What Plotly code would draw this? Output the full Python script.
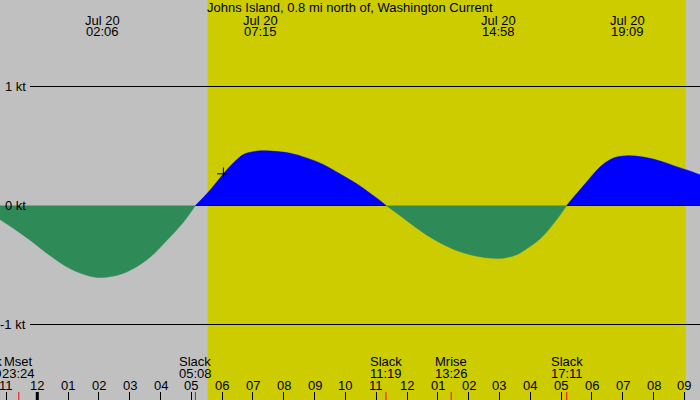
import plotly.graph_objects as go

title_text = "Johns Island, 0.8 mi north of, Washington Current"

# hours after Jul 20 00:00 (negative = Jul 19), current speed in knots
times = [-1.21, -0.70, -0.24, 0.41, 1.06, 1.71, 2.10, 2.68, 3.12, 3.66, 4.20, 4.74, 5.133,
         5.50, 5.82, 6.04, 6.25, 6.47, 6.69, 7.00, 7.25, 7.60, 8.20, 8.74, 9.28, 9.82,
         10.37, 10.80, 11.12, 11.317,
         11.77, 12.20, 12.75, 13.29, 13.83, 14.37, 14.97, 15.24, 15.56, 15.88, 16.32,
         16.75, 17.183,
         17.45, 17.78, 18.10, 18.43, 18.75, 19.15, 19.62, 20.16, 20.70, 21.13, 21.51]
speeds = [-0.118, -0.205, -0.29, -0.42, -0.53, -0.594, -0.605, -0.58, -0.53, -0.434, -0.294,
          -0.14, 0,
          0.098, 0.196, 0.266, 0.328, 0.384, 0.429, 0.452, 0.46, 0.457, 0.44, 0.40, 0.345,
          0.266, 0.182, 0.103, 0.042, 0,
          -0.084, -0.168, -0.266, -0.342, -0.398, -0.431, -0.445, -0.437, -0.414, -0.364,
          -0.28, -0.154, 0,
          0.084, 0.182, 0.28, 0.359, 0.403, 0.418, 0.409, 0.378, 0.33, 0.294, 0.258]

# extrema labels (top)
peak_hours = [2.10, 7.25, 14.967, 19.15]
peak_labels = ["02:06", "07:15", "14:58", "19:09"]
peak_date = "Jul 20"

# events (bottom)
event_names = ["Slack", "Mset", "Slack", "Slack", "Mrise", "Slack"]
event_times = ["22:20", "23:24", "05:08", "11:19", "13:26", "17:11"]
event_day = [-1, -1, 0, 0, 0, 0]

# hour ticks
tick_hours = list(range(-1, 22))
tick_labels = ["11", "12", "01", "02", "03", "04", "05", "06", "07", "08", "09", "10",
               "11", "12", "01", "02", "03", "04", "05", "06", "07", "08", "09"]

# y labels
kt_values = [1, 0, -1]
kt_labels = ["1 kt", "0 kt", "-1 kt"]

sunrise, sunset = 5.53, 21.04
now_t, now_v = [6.04], [0.266]

x_range = [-1.2107, 21.509]
y_range = [-1.6345, 1.7269]

GRAY = "#c0c0c0"
YELLOW = "#cccc00"
BLUE = "#0000ff"
GREEN = "#2e8b57"
FONT = dict(family="Liberation Sans, Arial, sans-serif", size=13, color="black")
W, H = 700, 400
px_per_hour = W / (x_range[1] - x_range[0])

fig = go.Figure()

# split into segments at zero crossings
segments = []
cur_t, cur_v = [], []
for t, v in zip(times, speeds):
    cur_t.append(t)
    cur_v.append(v)
    if v == 0 and len(cur_t) > 1:
        segments.append((cur_t, cur_v))
        cur_t, cur_v = [t], [v]
if len(cur_t) > 1:
    segments.append((cur_t, cur_v))

pos_segs = [s for s in segments if max(s[1]) > 0]
neg_segs = [s for s in segments if min(s[1]) < 0]

for st, sv in pos_segs:
    fig.add_trace(go.Scatter(x=st, y=sv, mode="lines", fill="tozeroy",
                             fillcolor=BLUE, line=dict(color=BLUE, width=0.5,
                                                       shape="spline", smoothing=1.0),
                             hoverinfo="skip", showlegend=False))
    # zero baseline under the flood
    fig.add_trace(go.Scatter(x=[st[0], st[-1]], y=[0, 0], mode="lines",
                             line=dict(color="black", width=1),
                             hoverinfo="skip", showlegend=False))

for st, sv in neg_segs:
    fig.add_trace(go.Scatter(x=st, y=sv, mode="lines", fill="tozeroy",
                             fillcolor=GREEN, line=dict(color=GREEN, width=0.5,
                                                        shape="spline", smoothing=1.0),
                             hoverinfo="skip", showlegend=False))

# current-time marker
fig.add_trace(go.Scatter(x=now_t, y=now_v, mode="markers",
                         marker=dict(symbol="cross-thin", size=9,
                                     line=dict(color="black", width=1)),
                         hoverinfo="skip", showlegend=False))

shapes = []
# daylight
shapes.append(dict(type="rect", xref="x", yref="paper", x0=sunrise, x1=sunset,
                   y0=0, y1=1, fillcolor=YELLOW, line=dict(width=0), layer="below"))
# +/-1 kt lines
for k in [1, -1]:
    shapes.append(dict(type="line", xref="paper", yref="y", x0=30 / W, x1=1,
                       y0=k, y1=k, line=dict(color="black", width=1)))
# midnight tick
shapes.append(dict(type="line", xref="x", yref="paper", x0=0, x1=0, y0=0, y1=8 / H,
                   line=dict(color="black", width=3)))

annotations = []
for k, lab in zip(kt_values, kt_labels):
    annotations.append(dict(x=28 / W, xref="paper", y=k, yref="y", text=lab,
                            showarrow=False, xanchor="right", yanchor="middle",
                            font=FONT))

annotations.append(dict(x=0.5, xref="paper", y=1 - 7.5 / H, yref="paper",
                        text=title_text, showarrow=False, xanchor="center",
                        yanchor="middle", font=FONT))

for h, lab in zip(peak_hours, peak_labels):
    annotations.append(dict(x=h, xref="x", y=1 - 20 / H, yref="paper",
                            text=peak_date, showarrow=False, yanchor="middle", font=FONT))
    annotations.append(dict(x=h, xref="x", y=1 - 32 / H, yref="paper",
                            text=lab, showarrow=False, yanchor="middle", font=FONT))

for name, tm, d in zip(event_names, event_times, event_day):
    hh, mm = tm.split(":")
    h = int(hh) + int(mm) / 60 + 24 * d
    # events left of the visible window: anchor at the window edge, shift by scale
    if h < x_range[0]:
        ax_x, shift = x_range[0], (h - x_range[0]) * px_per_hour
    else:
        ax_x, shift = h, 0
    annotations.append(dict(x=ax_x, xshift=shift, xref="x", y=1 - 361.5 / H,
                            yref="paper", text=name, showarrow=False,
                            yanchor="middle", font=FONT))
    annotations.append(dict(x=ax_x, xshift=shift, xref="x", y=1 - 373.8 / H,
                            yref="paper", text=tm, showarrow=False,
                            yanchor="middle", font=FONT))
    if h >= x_range[0]:
        shapes.append(dict(type="line", xref="x", yref="paper", x0=h, x1=h, y0=0,
                           y1=8 / H, line=dict(color="red", width=1)))

for h, lab in zip(tick_hours, tick_labels):
    annotations.append(dict(x=h, xref="x", y=1 - 385.5 / H, yref="paper",
                            text=lab, showarrow=False, yanchor="middle", font=FONT))

fig.update_layout(
    width=W, height=H,
    margin=dict(l=0, r=0, t=0, b=0, pad=0),
    paper_bgcolor=GRAY, plot_bgcolor=GRAY,
    shapes=shapes, annotations=annotations,
    xaxis=dict(range=x_range, showgrid=False, zeroline=False, showline=False,
               tickvals=tick_hours, ticks="inside", ticklen=8, tickwidth=1,
               tickcolor="black", showticklabels=False, fixedrange=True),
    yaxis=dict(range=y_range, showgrid=False, zeroline=False, showline=False,
               showticklabels=False, ticks="", fixedrange=True),
    showlegend=False,
)

fig.write_html("out.html", config={"displayModeBar": False})
